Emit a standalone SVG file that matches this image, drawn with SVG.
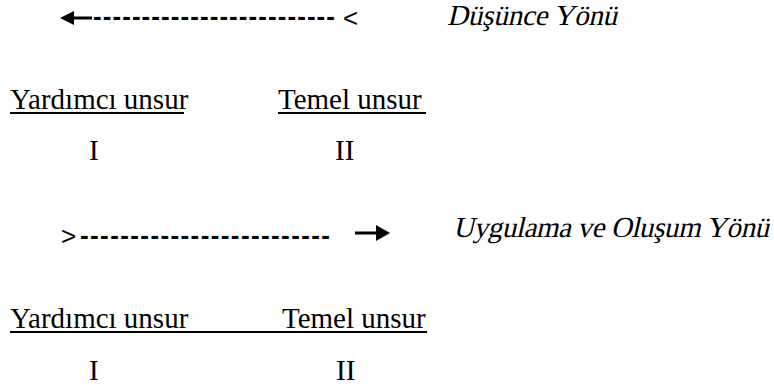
<svg xmlns="http://www.w3.org/2000/svg" width="774" height="385" viewBox="0 0 774 385">
<style>
.t{font-family:"Liberation Serif",serif;font-size:29px;fill:#000}
.d{font-family:"Liberation Sans",sans-serif;font-size:26px;font-weight:bold;fill:#000}
.s{font-family:"Liberation Sans",sans-serif;font-size:26px;fill:#000}
.u{stroke:#000;stroke-width:2;fill:none}
.sh{stroke:#000;stroke-width:3;fill:none}
</style>
<rect width="774" height="385" fill="#fff"/>
<g id="connectors">
  <g id="arrow-think">
    <line class="sh" x1="72" y1="18" x2="92" y2="18"/>
    <polygon points="60,18 74,11 74,25" fill="#000"/>
    <text class="d" x="93" y="25" textLength="242" lengthAdjust="spacing">-------------------------</text>
    <text class="s" x="343" y="27">&lt;</text>
  </g>
  <g id="arrow-apply">
    <text class="s" x="61" y="245">&gt;</text>
    <text class="d" x="80" y="244" textLength="250" lengthAdjust="spacing">-------------------------</text>
    <line class="sh" x1="355" y1="233" x2="378" y2="233"/>
    <polygon points="390,233 376,225 376,241" fill="#000"/>
  </g>
</g>
<g id="label-think" transform="translate(447,25) skewX(-13)"><text class="t" x="0" y="0" textLength="170" lengthAdjust="spacing">Düşünce Yönü</text></g>
<g id="label-apply" transform="translate(453,237) skewX(-13)"><text class="t" x="0" y="0" textLength="316" lengthAdjust="spacing">Uygulama ve Oluşum Yönü</text></g>
<g id="row1">
  <g id="row1-aux">
    <text class="t" x="10" y="109">Yardımcı unsur</text>
    <line class="u" x1="10" y1="113" x2="184" y2="113"/>
    <text class="t" x="89" y="160">I</text>
  </g>
  <g id="row1-main">
    <text class="t" x="278" y="109">Temel unsur</text>
    <line class="u" x1="278" y1="113" x2="426" y2="113"/>
    <text class="t" x="335" y="160">II</text>
  </g>
</g>
<g id="row2">
  <line class="u" x1="10" y1="332" x2="427" y2="332"/>
  <g id="row2-aux">
    <text class="t" x="10" y="328">Yardımcı unsur</text>
    <text class="t" x="89" y="380">I</text>
  </g>
  <g id="row2-main">
    <text class="t" x="282" y="328">Temel unsur</text>
    <text class="t" x="336" y="380">II</text>
  </g>
</g>
</svg>
